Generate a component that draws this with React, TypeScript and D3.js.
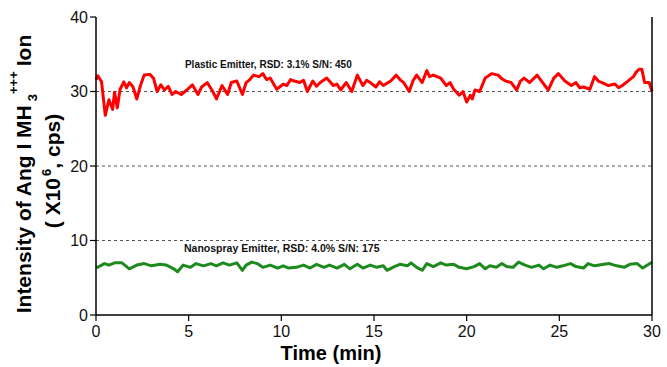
import React from 'react';
import * as d3 from 'd3';

// Plastic emitter trace (time in min, intensity x10^6 cps)
const redTime = [0, 0.1, 0.3, 0.5, 0.7, 0.9, 1.0, 1.15, 1.3, 1.5, 1.65, 1.8, 2.0, 2.2, 2.4, 2.6, 2.9, 3.1, 3.3, 3.5, 3.7, 3.9, 4.1, 4.3, 4.6, 4.9, 5.2, 5.5, 5.7, 6.0, 6.3, 6.5, 6.8, 7.1, 7.3, 7.6, 7.9, 8.1, 8.3, 8.5, 8.8, 9.0, 9.2, 9.4, 9.75, 10.1, 10.3, 10.5, 10.7, 11.0, 11.2, 11.4, 11.7, 11.9, 12.1, 12.45, 12.8, 13.0, 13.2, 13.5, 13.8, 14.1, 14.4, 14.6, 14.8, 15.1, 15.3, 15.5, 15.9, 16.2, 16.4, 16.6, 16.9, 17.1, 17.3, 17.6, 17.85, 18.0, 18.2, 18.6, 18.9, 19.1, 19.3, 19.6, 19.8, 20.0, 20.2, 20.3, 20.45, 20.7, 21.0, 21.35, 21.7, 21.9, 22.1, 22.4, 22.7, 22.9, 23.1, 23.4, 23.8, 24.1, 24.4, 24.7, 24.95, 25.3, 25.65, 25.9, 26.1, 26.3, 26.65, 26.9, 27.1, 27.3, 27.65, 28.0, 28.2, 28.4, 28.6, 29.0, 29.15, 29.3, 29.45, 29.6, 29.85, 30.0];
const redValue = [31.6, 32.1, 31.3, 26.8, 28.9, 27.6, 29.9, 27.8, 30.3, 31.3, 30.5, 31.2, 30.6, 29.0, 30.8, 32.2, 32.3, 31.8, 30.0, 30.9, 30.2, 30.7, 29.6, 30.0, 29.6, 30.2, 30.9, 29.6, 30.6, 31.2, 30.0, 29.0, 30.8, 29.6, 31.2, 31.4, 29.6, 31.2, 31.6, 32.2, 32.0, 32.4, 31.6, 31.8, 30.3, 31.0, 30.8, 31.6, 31.4, 31.2, 31.5, 30.0, 31.4, 30.7, 31.2, 31.8, 30.8, 31.0, 30.2, 31.2, 30.0, 32.2, 30.8, 31.5, 31.2, 30.6, 31.3, 30.8, 31.4, 32.2, 31.6, 31.2, 30.0, 31.4, 32.2, 31.2, 32.8, 32.0, 32.2, 31.8, 30.8, 31.2, 30.3, 29.5, 30.0, 28.6, 29.5, 29.0, 30.2, 30.0, 31.8, 32.4, 32.2, 31.7, 31.4, 31.2, 30.2, 31.4, 31.8, 31.2, 32.2, 31.2, 30.2, 31.8, 32.4, 31.4, 30.8, 31.2, 30.5, 30.6, 30.3, 32.0, 31.4, 31.2, 30.8, 31.0, 30.5, 30.8, 31.2, 32.0, 32.6, 33.0, 33.0, 31.2, 31.2, 30.0];

// Nanospray emitter trace
const greenTime = [0, 0.1, 0.45, 0.7, 1.0, 1.4, 1.8, 2.2, 2.6, 3.0, 3.45, 3.8, 4.2, 4.4, 4.7, 5.1, 5.4, 5.8, 6.2, 6.5, 6.85, 7.2, 7.6, 7.9, 8.1, 8.4, 8.7, 9.0, 9.4, 9.8, 10.1, 10.4, 10.8, 11.2, 11.55, 11.9, 12.3, 12.6, 13.0, 13.4, 13.7, 14.1, 14.4, 14.8, 15.15, 15.5, 15.7, 16.1, 16.4, 16.8, 17.0, 17.3, 17.6, 17.85, 18.2, 18.6, 18.9, 19.3, 19.6, 20.0, 20.4, 20.7, 21.0, 21.25, 21.6, 21.9, 22.15, 22.5, 22.8, 23.15, 23.5, 23.9, 24.15, 24.5, 24.85, 25.2, 25.6, 25.9, 26.3, 26.55, 26.9, 27.4, 27.7, 28.1, 28.5, 28.8, 29.2, 29.5, 29.95, 30.0];
const greenValue = [6.5, 6.4, 6.9, 6.7, 7.0, 7.0, 6.2, 6.7, 6.9, 6.6, 6.8, 6.7, 6.2, 5.8, 6.7, 6.4, 6.9, 6.6, 6.9, 6.6, 7.0, 6.7, 7.0, 6.0, 6.7, 7.1, 6.9, 6.4, 6.7, 6.3, 6.6, 6.3, 6.4, 6.7, 6.3, 6.8, 6.4, 6.7, 6.3, 6.8, 6.2, 6.8, 6.3, 6.7, 6.4, 6.6, 6.0, 6.5, 6.8, 6.6, 7.0, 6.4, 6.0, 6.9, 6.5, 7.0, 6.7, 6.8, 6.4, 6.2, 6.5, 6.9, 6.2, 6.6, 6.4, 6.9, 6.5, 6.4, 7.1, 6.7, 6.4, 6.7, 6.2, 6.7, 6.4, 6.6, 6.9, 6.5, 6.3, 6.9, 6.6, 6.8, 6.9, 6.6, 6.4, 6.8, 6.9, 6.3, 7.0, 6.9];

const xTicks = [0, 5, 10, 15, 20, 25, 30];
const yTicks = [0, 10, 20, 30, 40];
const gridLevels = [10, 20, 30];

const W = 667;
const H = 367;
const margin = { top: 17, right: 15, bottom: 52, left: 96 };

const font = '"Liberation Sans", Arial, sans-serif';

const App = () => {
  const x = d3.scaleLinear().domain([0, 30]).range([margin.left, W - margin.right]);
  const y = d3.scaleLinear().domain([0, 40]).range([H - margin.bottom, margin.top]);

  const line = d3.line<[number, number]>()
    .x(d => x(d[0]))
    .y(d => y(d[1]));

  const red = redTime.map((t, i) => [t, redValue[i]] as [number, number]);
  const green = greenTime.map((t, i) => [t, greenValue[i]] as [number, number]);

  const x0 = x(0);
  const x1 = x(30);
  const yBottom = y(0);
  const yTop = y(40);
  const midY = (yTop + yBottom) / 2;

  return (
    <svg width={W} height={H} style={{ position: 'absolute', left: 0, top: 0, background: '#fff' }} fontFamily={font}>
      {/* dashed reference lines */}
      {gridLevels.map(g => (
        <line key={g} x1={x0} x2={x1} y1={y(g)} y2={y(g)} stroke="#555" strokeWidth={1} strokeDasharray="3,3" />
      ))}

      <path d={line(red) || ''} fill="none" stroke="#ff0000" strokeWidth={3} strokeLinejoin="round" />
      <path d={line(green) || ''} fill="none" stroke="#1d8a1d" strokeWidth={3} strokeLinejoin="round" />

      {/* axes */}
      <line x1={x0} x2={x0} y1={yTop} y2={yBottom} stroke="#000" strokeWidth={1.5} />
      <line x1={x1} x2={x1} y1={yTop} y2={yBottom} stroke="#000" strokeWidth={1.5} />
      <line x1={x0} x2={x1} y1={yBottom} y2={yBottom} stroke="#000" strokeWidth={1.5} />

      {yTicks.map(t => (
        <g key={t}>
          <line x1={x0 - 6} x2={x0} y1={y(t)} y2={y(t)} stroke="#000" strokeWidth={1.2} />
          <text x={x0 - 8} y={y(t)} dy="0.36em" textAnchor="end" fontSize={16} fill="#111">{t}</text>
        </g>
      ))}
      {xTicks.map(t => (
        <g key={t}>
          <line x1={x(t)} x2={x(t)} y1={yBottom} y2={yBottom + 6} stroke="#000" strokeWidth={1.2} />
          <text x={x(t)} y={yBottom + 22} textAnchor="middle" fontSize={16} fill="#111">{t}</text>
        </g>
      ))}

      {/* annotations */}
      <text x={x(4.8)} y={y(33.2)} fontSize={10} fontWeight="bold" fill="#111">Plastic Emitter, RSD: 3.1% S/N: 450</text>
      <text x={x(4.75)} y={y(8.5)} fontSize={10.5} fontWeight="bold" fill="#111">Nanospray Emitter, RSD: 4.0% S/N: 175</text>

      {/* axis titles */}
      <text x={(x0 + x1) / 2 - 43} y={H - 7} textAnchor="middle" fontSize={20} fontWeight="bold" fill="#000">Time (min)</text>

      <text transform={`translate(31, ${midY + 8}) rotate(-90)`} textAnchor="middle" fontSize={21} fontWeight="bold" fill="#000">
        Intensity of Ang I MH
        <tspan fontSize={13} dx="4" dy="6">3</tspan>
        <tspan fontSize={13} dy="-19">+++</tspan>
        <tspan dx="5" dy="13">Ion</tspan>
      </text>
      <text transform={`translate(60, ${midY + 5}) rotate(-90)`} textAnchor="middle" fontSize={21} fontWeight="bold" fill="#000">
        ( X10
        <tspan fontSize={13} dx="2" dy="-9">6</tspan>
        <tspan dy="9">, cps)</tspan>
      </text>
    </svg>
  );
};

export default App;
